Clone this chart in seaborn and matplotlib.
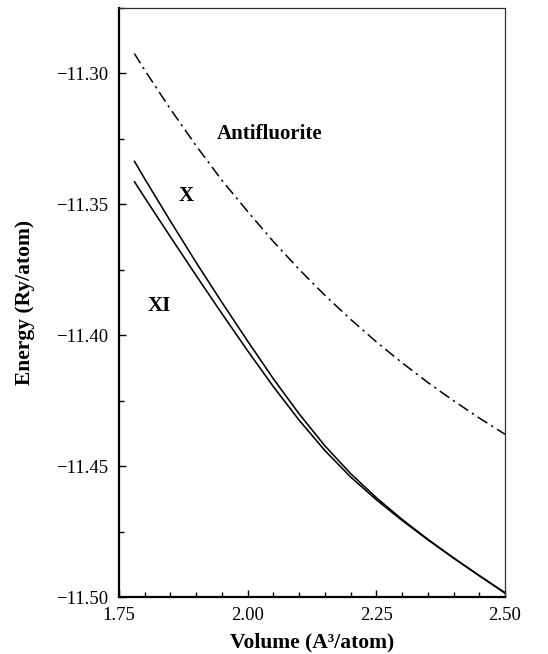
import matplotlib
matplotlib.use("Agg")
import matplotlib.pyplot as plt
import seaborn as sns
import pandas as pd
from matplotlib.ticker import MultipleLocator

# volumes (A^3/atom)
volume = [1.78, 1.80, 1.85, 1.90, 1.95, 2.00, 2.05, 2.10,
          2.15, 2.20, 2.25, 2.30, 2.35, 2.40, 2.45, 2.50]

# energies (Ry/atom) per phase
e_antifluorite = [-11.2924, -11.2987, -11.3136, -11.3276, -11.3408, -11.3527,
                  -11.3642, -11.3748, -11.3847, -11.3939, -11.4025, -11.4105,
                  -11.4180, -11.4250, -11.4316, -11.4378]
e_x = [-11.3335, -11.3402, -11.3564, -11.3722, -11.3874, -11.4022,
       -11.4166, -11.4300, -11.4422, -11.4528, -11.4620, -11.4703,
       -11.4779, -11.4850, -11.4918, -11.4983]
e_xi = [-11.3413, -11.3474, -11.3624, -11.3772, -11.3917, -11.4059,
        -11.4196, -11.4324, -11.4440, -11.4541, -11.4628, -11.4707,
        -11.4781, -11.4851, -11.4918, -11.4985]

x_ticks = [1.75, 2.00, 2.25, 2.50]
x_labels = ["1.75", "2.00", "2.25", "2.50"]
y_ticks = [-11.50, -11.45, -11.40, -11.35, -11.30]
y_labels = ["\u221211.50", "\u221211.45", "\u221211.40", "\u221211.35", "\u221211.30"]

df = pd.DataFrame({
    "Volume": volume * 3,
    "Energy": e_antifluorite + e_x + e_xi,
    "Phase": ["Antifluorite"] * len(volume) + ["X"] * len(volume) + ["XI"] * len(volume),
})

sns.set_theme(style="ticks")
plt.rcParams["font.family"] = ["Liberation Serif", "DejaVu Serif"]
plt.rcParams["text.color"] = "black"
plt.rcParams["axes.labelcolor"] = "black"

fig = plt.figure(figsize=(5.48, 6.54), dpi=100)
ax = fig.add_axes([0.217, 0.087, 0.7045, 0.9008])

sns.lineplot(data=df[df["Phase"] == "Antifluorite"], x="Volume", y="Energy",
             color="black", linewidth=1.1, ax=ax,
             linestyle=(0, (7.5, 3, 1.5, 3)))
sns.lineplot(data=df[df["Phase"] == "X"], x="Volume", y="Energy",
             color="black", linewidth=1.15, ax=ax)
sns.lineplot(data=df[df["Phase"] == "XI"], x="Volume", y="Energy",
             color="black", linewidth=1.15, ax=ax)

ax.set_xlim(1.75, 2.50)
ax.set_ylim(-11.50, -11.275)
ax.set_xticks(x_ticks)
ax.set_xticklabels(x_labels)
ax.set_yticks(y_ticks)
ax.set_yticklabels(y_labels)
ax.xaxis.set_minor_locator(MultipleLocator(0.05))
ax.yaxis.set_minor_locator(MultipleLocator(0.025))
ax.tick_params(which="both", direction="in", top=False, right=False,
               labelsize=13.5, colors="black", labelcolor="black", width=1.0)
ax.tick_params(axis="y", pad=8)
ax.tick_params(axis="x", pad=7)
ax.tick_params(which="major", length=5)
ax.tick_params(which="minor", length=3.5)

for side in ["left", "bottom"]:
    ax.spines[side].set_linewidth(1.6)
    ax.spines[side].set_color("black")
for side in ["top", "right"]:
    ax.spines[side].set_linewidth(0.9)
    ax.spines[side].set_color("#333333")

ax.set_xlabel("Volume (A\u00b3/atom)", fontsize=15.5, fontweight="bold",
              labelpad=6, color="black")
ax.set_ylabel("Energy (Ry/atom)", fontsize=15.5, fontweight="bold",
              labelpad=15, color="black")

ax.text(2.043, -11.3233, "Antifluorite", fontsize=15, fontweight="bold",
        ha="center", va="center", color="black")
ax.text(1.880, -11.347, "X", fontsize=15, fontweight="bold",
        ha="center", va="center", color="black")
ax.text(1.828, -11.389, "XI", fontsize=15, fontweight="bold",
        ha="center", va="center", color="black")

fig.savefig("out.png", dpi=100)
